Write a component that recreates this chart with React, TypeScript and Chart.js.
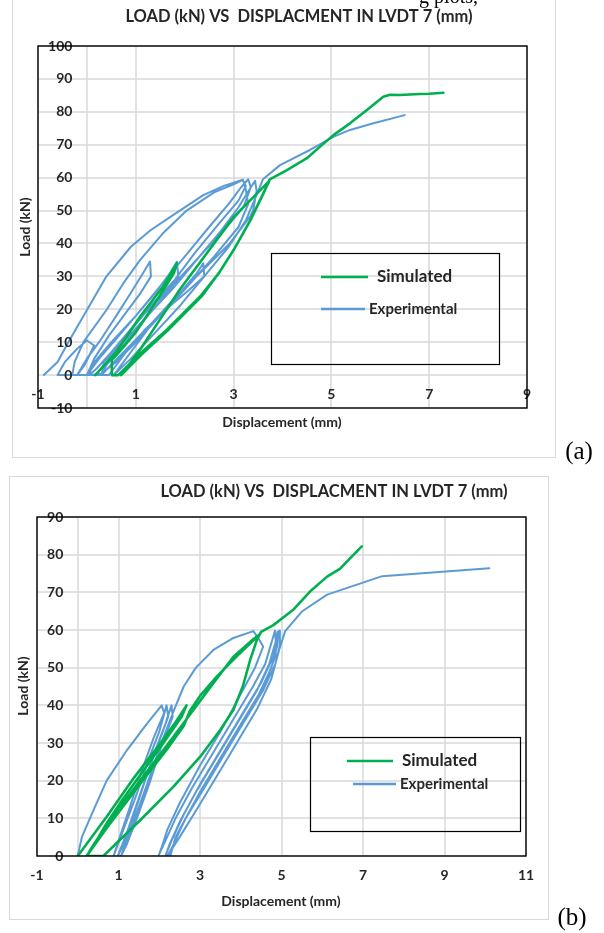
import React, { useEffect, useRef } from "react";
import { Chart, registerables } from "chart.js";

Chart.register(...registerables);

// ---------- text ----------
const seriesNames = ["Simulated", "Experimental"];
const chartTitle = "LOAD (kN) VS  DISPLACMENT IN LVDT 7 (mm)";
const xAxisTitle = "Displacement (mm)";
const yAxisTitle = "Load (kN)";
const panelTags = ["(a)", "(b)"];
const clippedCaption = "g plots,";

// ---------- ticks ----------
const xTicksA = [-1, 1, 3, 5, 7, 9];
const yTicksA = [-10, 0, 10, 20, 30, 40, 50, 60, 70, 80, 90, 100];
const xTicksB = [-1, 1, 3, 5, 7, 9, 11];
const yTicksB = [0, 10, 20, 30, 40, 50, 60, 70, 80, 90];

// ---------- (a) Simulated ----------
const simAX = [0.17, 0.6, 1.09, 1.56, 1.84, 1.78, 1.4, 1.0, 0.6, 0.51, 0.51, 0.64, 1.09, 1.63, 2.31, 2.7, 3.0, 3.34, 3.6, 3.73, 3.4, 3.0, 2.7, 2.3, 1.9, 1.5, 1.1, 0.8, 0.7, 1.1, 1.65, 2.35, 2.72, 3.02, 3.36, 3.62, 3.74, 4.09, 4.5, 4.75, 5.04, 5.38, 5.72, 6.06, 6.2, 6.4, 6.81, 7.0, 7.29];
const simAY = [0, 7, 17.8, 27, 34, 31, 22, 13, 6, 4.6, 0, 0, 6.6, 13.7, 23.8, 31, 38, 47, 55, 59, 54, 48, 42, 34, 26, 17, 8, 2, 0, 6, 13.5, 24, 31.5, 38.5, 47.5, 55.5, 59.5, 62.3, 65.9, 69.2, 72.9, 76.5, 80.5, 84.6, 85.2, 85.1, 85.4, 85.5, 85.8];

// ---------- (a) Experimental ----------
const expAX = [
  -0.88, -0.6, -0.38, 0.01, 0.4, 0.9, 1.3, 1.7, 2.38, 2.8, 3.19, 3.24,
  3.3, 3.1, 2.6, 2.0, 1.5, 1.0, 0.6, 0.3, 0.1, -0.6,
  -0.45, -0.2, 0.0, 0.15, -0.05, -0.2,
  0.0, 0.25, 0.6, 0.9, 1.15, 1.29, 1.31, 1.1, 0.8, 0.45, 0.15, 0.0,
  0.25, 0.6, 1.0, 1.4, 1.7, 1.84, 1.87, 1.6, 1.2, 0.8, 0.45, 0.3,
  0.55, 0.95, 1.4, 1.9, 2.25, 2.38, 2.4, 2.1, 1.7, 1.2, 0.8, 0.55, 0.45,
  -0.3, -0.25, -0.07, 0.41, 0.75, 1.09, 1.55, 2.04, 2.6, 3.0, 3.19, 3.25,
  3.1, 2.7, 2.2, 1.8, 1.3, 0.9, 0.5, 0.2, 0.05,
  0.1, 0.5, 1.0, 1.5, 2.0, 2.5, 2.9, 3.15, 3.3, 3.35, 3.2, 2.8, 2.3, 1.8, 1.3, 0.8, 0.4, 0.3,
  0.35, 0.8, 1.3, 1.8, 2.3, 2.75, 3.1, 3.35, 3.44, 3.47, 3.4, 3.33, 2.92, 2.38, 1.83, 1.4, 1.0, 0.7, 0.55,
  0.9, 1.4, 1.9, 2.4, 2.9, 3.25, 3.45, 3.6, 3.95, 4.56, 5.04, 5.38, 5.86, 6.5,
];
const expAY = [
  0, 4, 10, 20, 30, 39, 44, 48, 54.7, 57.5, 59.4, 57,
  52, 45, 36, 26, 18, 10, 4, 0.5, 0, 0,
  4, 8, 10.5, 9, 3, 0,
  5, 10, 18, 25, 31, 34.5, 30, 25, 19, 12, 5, 0,
  5, 11, 18, 25, 31, 34.4, 30, 25, 19, 12, 5, 0,
  4, 10, 17, 25, 31, 34, 30, 26, 21, 14, 7, 2, 0,
  0, 4, 10, 20, 28, 35, 43, 50, 55.5, 58, 59.3, 57.5,
  53, 46, 37, 29, 21, 14, 7, 2, 0,
  3, 10, 18, 27, 36, 45, 52, 57, 59.5, 57, 51, 44, 36, 28, 19, 10, 3, 0,
  4, 11, 19, 27, 36, 44, 51, 57, 59, 56, 50, 48, 40, 32, 24, 17, 9, 3, 0,
  5, 13, 21, 30, 39, 47, 54, 59.5, 63.8, 68.4, 72.4, 74.5, 76.5, 79,
];

// ---------- (b) Simulated ----------
const simBX = [
  0, 0.71, 1.34, 2.0, 2.4, 2.67, 2.55, 2.1, 1.6, 1.1, 0.7, 0.4, 0.22,
  0.79, 1.6, 2.2, 2.6, 2.75, 3.0, 3.41, 3.9, 4.46,
  4.3, 3.82, 3.3, 2.75, 2.2, 1.6, 1.0, 0.6, 0.3, 0.24, 0.63,
  1.53, 2.35, 3.0, 3.5, 3.82, 4.05, 4.23, 4.4, 4.5, 4.8, 5.28, 5.7, 6.11, 6.44, 6.68, 6.97,
];
const simBY = [
  0, 10.4, 20.2, 29.5, 35.5, 40, 37, 30, 22.5, 15, 8.5, 3, 0,
  8.6, 20.1, 28.5, 34.5, 38.5, 42.5, 47.6, 53, 58.8,
  57.5, 52.9, 45.5, 37.5, 29.5, 21, 12.5, 6.5, 1.5, 0, 0,
  9.5, 18.4, 26.3, 33.5, 38.8, 45, 52, 57.5, 59.5, 61.3, 65.3, 70.2, 74.1, 76.3, 79, 82.2,
];

// ---------- (b) Experimental ----------
const expBX = [
  0, 0.1, 0.4, 0.71, 1.2, 1.69, 2.06, 2.12,
  1.85, 1.55, 1.25, 1.0, 0.88,
  1.05, 1.4, 1.75, 2.0, 2.18, 2.22, 1.95, 1.65, 1.35, 1.12, 0.98,
  1.2, 1.55, 1.9, 2.15, 2.3, 2.33, 2.05, 1.75, 1.45, 1.2, 1.06,
  1.3, 1.7, 2.05, 2.3, 2.41,
  2.6, 2.9, 3.33, 3.8, 4.31, 4.45, 4.55,
  4.35, 3.95, 3.5, 3.0, 2.5, 2.2, 2.05, 1.98,
  2.15, 2.4, 2.8, 3.3, 3.8, 4.3, 4.6, 4.84, 4.86, 4.7, 4.4, 3.9, 3.4, 2.9, 2.5, 2.25, 2.15,
  2.3, 2.6, 3.0, 3.5, 4.0, 4.5, 4.8, 4.94, 4.96, 4.85, 4.55, 4.1, 3.6, 3.1, 2.65, 2.38, 2.27,
  2.4, 2.75, 3.2, 3.7, 4.2, 4.6, 4.85, 4.9, 4.9, 4.75, 4.45, 4.0, 3.5, 3.0, 2.6, 2.35, 2.2,
  2.5, 2.9, 3.4, 3.9, 4.4, 4.75, 4.95, 5.09, 5.5, 6.12, 7.47, 10.1,
];
const expBY = [
  0, 5, 12.5, 20, 28, 35, 40, 38,
  31, 22, 12, 4, 0,
  5, 15, 26, 33, 40, 37, 29, 20, 10, 3, 0,
  6, 17, 28, 35, 40, 37, 29, 19, 10, 3, 0,
  7, 19, 30, 37, 40,
  45, 50, 54.7, 57.8, 59.7, 57.5, 55.6,
  50, 42, 33, 24, 14, 7, 2, 0,
  4, 10, 18, 27, 36, 45, 51, 59.8, 57, 51, 44, 35, 26, 17, 9, 3, 0,
  4, 11, 19, 28, 37, 46, 53, 59.8, 56, 51, 44, 36, 27, 18, 10, 4, 0,
  5, 12, 20, 29, 38, 46, 53, 59.5, 56, 50, 43, 35, 26, 17, 9, 3, 0,
  5, 12, 21, 30, 39, 47, 55, 59.7, 64.9, 69.4, 74.3, 76.4,
];

// ---------- styles ----------
const GREEN = "#00B050";
const BLUE = "#5B9BD5";
const GRID = "#d9d9d9";
const INK = "#262626";
const SANS = "Lato, 'Noto Sans', 'DejaVu Sans', sans-serif";
const SERIF = "'Liberation Serif', 'DejaVu Serif', serif";

type Layout = {
  top: number;
  height: number;
  pad: { left: number; top: number; right: number; bottom: number };
  frame: [number, number, number, number];
  title: [number, number];
  xTitle: [number, number];
  yTitle: [number, number];
  legendBox: [number, number, number, number];
  leg: { x1: number; x2: number; y: number; tx: number }[];
  tag: [number, number];
  caption?: [number, number];
};

const layoutA: Layout = {
  top: 0,
  height: 465,
  pad: { left: 38, top: 46, right: 77, bottom: 57 },
  frame: [12.5, -3, 555.5, 457.5],
  title: [299, 17],
  xTitle: [282, 422],
  yTitle: [25, 227],
  legendBox: [271.5, 253.5, 499.5, 364.5],
  leg: [
    { x1: 321, x2: 368, y: 277, tx: 377 },
    { x1: 321, x2: 365, y: 309, tx: 369 },
  ],
  tag: [579, 452],
  caption: [478, 3],
};

const layoutB: Layout = {
  top: 465,
  height: 468,
  pad: { left: 37, top: 52, right: 78, bottom: 77 },
  frame: [9.5, 476.5, 548.5, 919.5],
  title: [334, 492],
  xTitle: [281, 901],
  yTitle: [23, 686],
  legendBox: [310.5, 737.5, 520.5, 831.5],
  leg: [
    { x1: 347, x2: 393, y: 761, tx: 402 },
    { x1: 353, x2: 396, y: 784, tx: 400 },
  ],
  tag: [572, 918],
};

const pts = (xs: number[], ys: number[]) => xs.map((x, i) => ({ x, y: ys[i] }));

function makeDeco(L: Layout, xTicks: number[], yTicks: number[], tag: string) {
  const o = L.top;
  return {
    id: "deco",
    beforeDatasetsDraw(chart: any) {
      const ctx = chart.ctx as CanvasRenderingContext2D;
      const xs = chart.scales.x;
      const ys = chart.scales.y;
      const ca = chart.chartArea;
      ctx.save();
      ctx.strokeStyle = GRID;
      ctx.lineWidth = 1;
      const [fx1, fy1, fx2, fy2] = L.frame;
      ctx.strokeRect(fx1, fy1 - o, fx2 - fx1, fy2 - fy1);
      ctx.lineWidth = 1.5;
      const line = (a: number, b: number, c: number, d: number) => {
        ctx.beginPath();
        ctx.moveTo(a, b);
        ctx.lineTo(c, d);
        ctx.stroke();
      };
      for (const v of yTicks) {
        const p = Math.round(ys.getPixelForValue(v));
        line(ca.left, p, ca.right, p);
      }
      for (const v of [...xTicks, 0]) {
        const p = Math.round(xs.getPixelForValue(v));
        line(p, ca.top, p, ca.bottom);
      }
      ctx.restore();
    },
    afterDraw(chart: any) {
      const ctx = chart.ctx as CanvasRenderingContext2D;
      const xs = chart.scales.x;
      const ys = chart.scales.y;
      const ca = chart.chartArea;
      ctx.save();
      // tick labels
      ctx.fillStyle = INK;
      ctx.font = `bold 14px ${SANS}`;
      const x0 = xs.getPixelForValue(0);
      const y0 = ys.getPixelForValue(0);
      ctx.textAlign = "right";
      ctx.textBaseline = "middle";
      for (const v of yTicks) ctx.fillText(String(v), x0 - 14.5, ys.getPixelForValue(v));
      ctx.textAlign = "center";
      for (const v of xTicks) ctx.fillText(String(v), xs.getPixelForValue(v), y0 + 19);
      // plot border
      ctx.strokeStyle = "#000";
      ctx.lineWidth = 1.4;
      ctx.strokeRect(ca.left, ca.top, ca.right - ca.left, ca.bottom - ca.top);
      // titles
      ctx.fillStyle = INK;
      ctx.font = `bold 16.5px ${SANS}`;
      ctx.fillText(chartTitle, L.title[0], L.title[1] - o);
      ctx.font = `bold 14px ${SANS}`;
      ctx.fillText(xAxisTitle, L.xTitle[0], L.xTitle[1] - o);
      ctx.save();
      ctx.translate(L.yTitle[0], L.yTitle[1] - o);
      ctx.rotate(-Math.PI / 2);
      ctx.fillText(yAxisTitle, 0, 0);
      ctx.restore();
      // legend
      const [bx1, by1, bx2, by2] = L.legendBox;
      ctx.strokeStyle = "#000";
      ctx.lineWidth = 1.2;
      ctx.strokeRect(bx1, by1 - o, bx2 - bx1, by2 - by1);
      const colors = [GREEN, BLUE];
      const fonts = [`bold 17px ${SANS}`, `bold 15px ${SANS}`];
      L.leg.forEach((g, i) => {
        ctx.strokeStyle = colors[i];
        ctx.lineWidth = 2.6;
        ctx.beginPath();
        ctx.moveTo(g.x1, g.y - o);
        ctx.lineTo(g.x2, g.y - o);
        ctx.stroke();
        ctx.fillStyle = INK;
        ctx.font = fonts[i];
        ctx.textAlign = "left";
        ctx.fillText(seriesNames[i], g.tx, g.y - o);
      });
      // panel tag
      ctx.fillStyle = "#000";
      ctx.font = `25px ${SERIF}`;
      ctx.textAlign = "center";
      ctx.fillText(tag, L.tag[0], L.tag[1] - o);
      if (L.caption) {
        ctx.font = `20px ${SERIF}`;
        ctx.textAlign = "right";
        ctx.textBaseline = "alphabetic";
        ctx.fillText(clippedCaption, L.caption[0], L.caption[1] - o);
      }
      ctx.restore();
    },
  };
}

function Panel(props: {
  L: Layout;
  simX: number[];
  simY: number[];
  expX: number[];
  expY: number[];
  xTicks: number[];
  yTicks: number[];
  tag: string;
}) {
  const ref = useRef<HTMLCanvasElement | null>(null);
  const { L, simX, simY, expX, expY, xTicks, yTicks, tag } = props;
  useEffect(() => {
    if (!ref.current) return;
    const chart = new Chart(ref.current, {
      type: "scatter",
      data: {
        datasets: [
          {
            label: seriesNames[0],
            data: pts(simX, simY),
            showLine: true,
            borderColor: GREEN,
            backgroundColor: GREEN,
            borderWidth: 2.6,
            pointRadius: 0,
            tension: 0,
            borderJoinStyle: "round",
            borderCapStyle: "round",
            order: 0,
          } as any,
          {
            label: seriesNames[1],
            data: pts(expX, expY),
            showLine: true,
            borderColor: BLUE,
            backgroundColor: BLUE,
            borderWidth: 2,
            pointRadius: 0,
            tension: 0,
            borderJoinStyle: "round",
            borderCapStyle: "round",
            order: 1,
          } as any,
        ],
      },
      options: {
        responsive: false,
        animation: false,
        devicePixelRatio: 1,
        layout: { padding: L.pad },
        scales: {
          x: {
            type: "linear",
            display: false,
            min: xTicks[0],
            max: xTicks[xTicks.length - 1],
            ticks: { stepSize: 2 },
          },
          y: {
            type: "linear",
            display: false,
            min: yTicks[0],
            max: yTicks[yTicks.length - 1],
            ticks: { stepSize: 10 },
          },
        },
        plugins: { legend: { display: false }, tooltip: { enabled: false } },
      },
      plugins: [makeDeco(L, xTicks, yTicks, tag)],
    });
    return () => chart.destroy();
  }, []);
  return (
    <canvas
      ref={ref}
      width={604}
      height={L.height}
      style={{ position: "absolute", left: 0, top: L.top, width: 604, height: L.height }}
    />
  );
}

export default function App() {
  useEffect(() => {
    document.body.style.margin = "0";
    document.body.style.background = "#fff";
  }, []);
  return (
    <div style={{ position: "relative", width: 604, height: 933, background: "#fff", overflow: "hidden" }}>
      <Panel L={layoutA} simX={simAX} simY={simAY} expX={expAX} expY={expAY} xTicks={xTicksA} yTicks={yTicksA} tag={panelTags[0]} />
      <Panel L={layoutB} simX={simBX} simY={simBY} expX={expBX} expY={expBY} xTicks={xTicksB} yTicks={yTicksB} tag={panelTags[1]} />
    </div>
  );
}
